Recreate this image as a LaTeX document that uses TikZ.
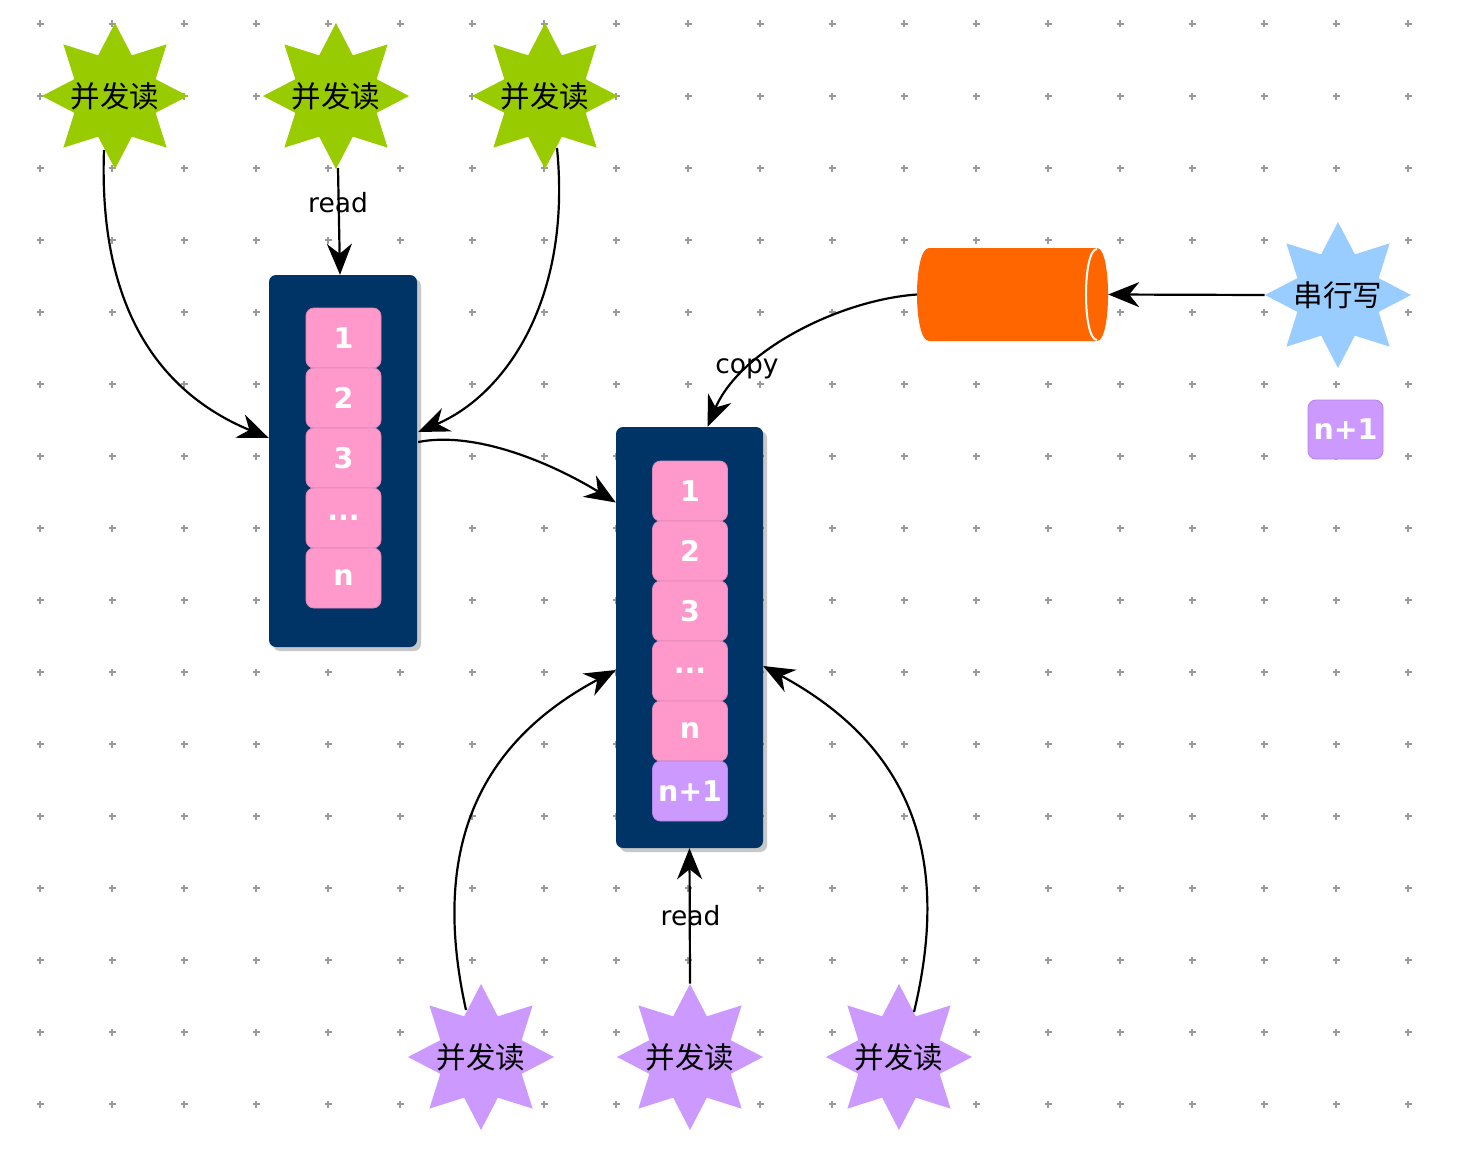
\documentclass[tikz,border=0pt]{standalone}
\usepackage{fontspec}
\setmainfont{DejaVu Sans}
\newfontfamily\cjk{Noto Sans CJK SC}
\usetikzlibrary{shapes.geometric,arrows.meta,shadows,calc}
\definecolor{navy}{HTML}{003366}
\definecolor{pinkc}{HTML}{FF99CC}
\definecolor{pinkline}{HTML}{E08AB8}
\definecolor{purplec}{HTML}{CC99FF}
\definecolor{purpleline}{HTML}{B585E6}
\definecolor{greenc}{HTML}{99CC00}
\definecolor{bluec}{HTML}{99CCFF}
\definecolor{orangec}{HTML}{FF6600}
\definecolor{gridc}{HTML}{9A9A9A}
\begin{document}
\begin{tikzpicture}[x=1pt,y=-1pt,
  gridmark/.style={draw=gridc,line width=1.5pt},
  starnode/.style={star,star points=8,star point ratio=1.66,minimum size=146pt,inner sep=0pt,draw=none},
  startext/.style={font=\cjk\fontsize{29.5}{33}\selectfont,text=black},
  store/.style={draw=none,fill=navy,rounded corners=7pt,
    drop shadow={shadow xshift=4pt,shadow yshift=-4pt,opacity=0.3,fill=black!70}},
  cell/.style={rectangle,rounded corners=8pt,minimum width=75pt,minimum height=60pt,
    fill=pinkc,draw=pinkline,line width=0.8pt,text=white,
    font=\bfseries\fontsize{28.5}{33}\selectfont,inner sep=0pt},
  newcell/.style={cell,fill=purplec,draw=purpleline},
  conn/.style={draw=black,line width=2.2pt,-{Stealth[length=31pt,width=25pt,inset=10pt]}},
  lbl/.style={font=\fontsize{26.5}{30}\selectfont,text=black,inner sep=0pt}
]
\useasboundingbox (0,0) rectangle (1466,1164);
\fill[white] (0,0) rectangle (1466,1164);

% grid of plus marks
\foreach \i in {0,...,19}{
  \foreach \j in {0,...,15}{
    \draw[gridmark] ({40+72*\i-3.5},{24+72*\j}) -- ++(7,0)
                    ({40+72*\i},{24+72*\j-3.5}) -- ++(0,7);
  }
}

% storage boxes
\node[store,minimum width=148pt,minimum height=372pt] (L) at (343,461) {};
\node[store,minimum width=147pt,minimum height=421pt] (R) at (689.5,637.5) {};

% cells of left box
\node[cell] (l1) at (343.5,338) {1};
\node[cell] (l2) at (343.5,398) {2};
\node[cell] (l3) at (343.5,458) {3};
\node[cell] (l4) at (343.5,518) {...};
\node[cell] (l5) at (343.5,578) {n};

% cells of right box
\node[cell] (r1) at (690,491) {1};
\node[cell] (r2) at (690,551) {2};
\node[cell] (r3) at (690,611) {3};
\node[cell] (r4) at (690,671) {...};
\node[cell] (r5) at (690,731) {n};
\node[newcell] (r6) at (690,791) {n+1};

% loose n+1
\node[newcell,minimum height=59pt] (nb) at (1345.5,429.5) {n+1};

% cylinder (buffer)
\node[minimum width=191pt,minimum height=93pt,inner sep=0pt] (cyl) at (1012.5,294.5) {};
\fill[orangec] (929,248) -- (1097,248)
  .. controls (1111.7,248) and (1111.7,341) .. (1097,341)
  -- (929,341)
  .. controls (913,341) and (913,248) .. (929,248) -- cycle;
\draw[white,line width=2pt] (1097,249) .. controls (1082.3,249) and (1082.3,340) .. (1097,340);

% stars
\node[starnode,fill=greenc,label={[startext]center:并发读}] (g1) at (115,96) {};
\node[starnode,fill=greenc,label={[startext]center:并发读}] (g2) at (336,96) {};
\node[starnode,fill=greenc,label={[startext]center:并发读}] (g3) at (545,96) {};
\node[starnode,fill=bluec,label={[startext]center:串行写}] (bs) at (1338,295) {};
\node[starnode,fill=purplec,label={[startext]center:并发读}] (p1) at (481,1057) {};
\node[starnode,fill=purplec,label={[startext]center:并发读}] (p2) at (690,1057) {};
\node[starnode,fill=purplec,label={[startext]center:并发读}] (p3) at (899,1057) {};

% connectors
\draw[conn] ($(g1.center)+(-11,54)$) .. controls (98,315) and (165,395) .. ($(L.west)+(0,-23)$);
\draw[conn] ($(g2.center)+(2,72)$) -- ($(L.north)+(-3,0)$);
\draw[conn] ($(g3.center)+(12,52)$) .. controls (572,300) and (505,395) .. ($(L.east)+(1,-29)$);
\draw[conn] ($(L.east)+(1,-19)$) .. controls (480,430) and (560,468) .. ($(R.west)+(0,-135)$);
\draw[conn] (cyl.west) .. controls (840,300) and (740,350) .. ($(R.north)+(18,0)$);
\draw[conn] (bs.west) -- (cyl.east);
\draw[conn] ($(p1.center)+(-15,-47)$) .. controls (435,870) and (462,752) .. ($(R.west)+(0,32.5)$);
\draw[conn] (p2.north) -- (R.south);
\draw[conn] ($(p3.center)+(15,-45)$) .. controls (948,870) and (922,752) .. ($(R.east)+(0,28.5)$);

% labels
\node[lbl] (readtop) at (338,203) {read};
\node[lbl] (copylbl) at (747,369) {copy};
\node[lbl] (readbot) at (690.5,916) {read};
\end{tikzpicture}
\end{document}
